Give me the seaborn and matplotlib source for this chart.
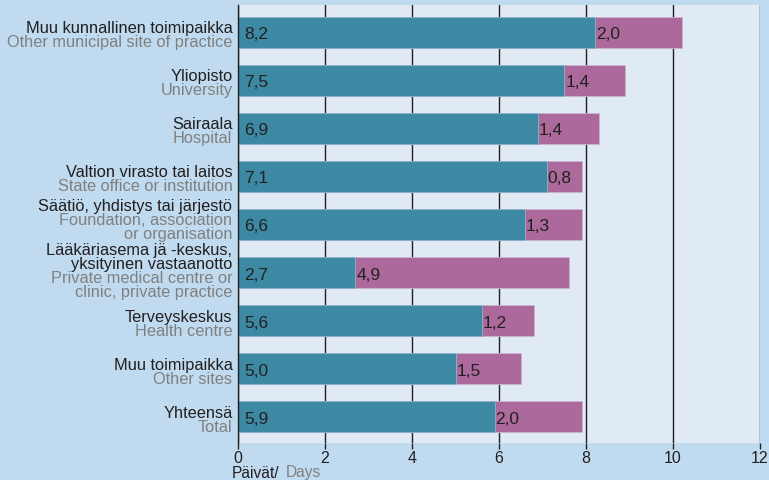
import matplotlib
matplotlib.use("Agg")
import matplotlib.pyplot as plt
import seaborn as sns
import pandas as pd

# ---- data ----
cats_fi = ["Muu kunnallinen toimipaikka", "Yliopisto", "Sairaala",
           "Valtion virasto tai laitos", "Säätiö, yhdistys tai järjestö",
           "Lääkäriasema jä -keskus,\nyksityinen vastaanotto", "Terveyskeskus",
           "Muu toimipaikka", "Yhteensä"]
cats_en = ["Other municipal site of practice", "University", "Hospital",
           "State office or institution", "Foundation, association\nor organisation",
           "Private medical centre or\nclinic, private practice", "Health centre",
           "Other sites", "Total"]
teal_vals = [8.2, 7.5, 6.9, 7.1, 6.6, 2.7, 5.6, 5.0, 5.9]
pink_vals = [2.0, 1.4, 1.4, 0.8, 1.3, 4.9, 1.2, 1.5, 2.0]
xticks = [0, 2, 4, 6, 8, 10, 12]
xlabel_fi = "Päivät/"
xlabel_en = "Days"

TEAL = "#3d89a4"
PINK = "#ab6a9b"
PLOT_BG = "#dfeaf5"
OUT_BG = "#c0dbf0"
DARK = "#231f20"
GRAY = "#808080"

sns.set_theme(style="white")
plt.rcParams["font.family"] = ["Liberation Sans", "DejaVu Sans"]

df = pd.DataFrame({"cat": cats_fi, "teal": teal_vals, "pink": pink_vals})
df["total"] = df["teal"] + df["pink"]

fig = plt.figure(figsize=(7.69, 4.8), dpi=100, facecolor=OUT_BG)
ax = fig.add_axes([238 / 769, 37 / 480, (760 - 238) / 769, (475 - 37) / 480])
ax.set_facecolor(PLOT_BG)

sns.barplot(data=df, x="total", y="cat", order=cats_fi, orient="h", color=PINK,
            saturation=1, width=0.65, ax=ax, edgecolor="#c9b3cf", linewidth=0.6,
            errorbar=None)
sns.barplot(data=df, x="teal", y="cat", order=cats_fi, orient="h", color=TEAL,
            saturation=1, width=0.65, ax=ax, edgecolor="#8fb4cc", linewidth=0.6,
            errorbar=None)

ax.set_xlim(0, 12)
ax.set_ylim(8.55, -0.57)
ax.set_xticks(xticks)
ax.set_xticklabels([str(t) for t in xticks], fontsize=11.5, color=DARK)
ax.set_yticks(range(len(cats_fi)))
ax.set_yticklabels([""] * len(cats_fi))
ax.tick_params(axis="y", length=0)
ax.tick_params(axis="x", length=4, width=1, color=DARK, pad=2, direction="out",
               bottom=True)
ax.set_xlabel("")
ax.set_ylabel("")
ax.set_axisbelow(True)
ax.xaxis.grid(True, color=DARK, linewidth=1)
for s in ["top", "right", "bottom"]:
    ax.spines[s].set_visible(False)
ax.spines["left"].set_color(DARK)
ax.spines["left"].set_linewidth(1)

# category labels (Finnish black, English gray)
PX = 72 / 100
line_pt = 14 * PX
block_shift = {1: 5, 2: 8, 3: 0.5, 4: 3}
trans = ax.get_yaxis_transform()
for i, (fi, en) in enumerate(zip(cats_fi, cats_en)):
    lines = [(l, DARK) for l in fi.split("\n")] + [(l, GRAY) for l in en.split("\n")]
    n = len(lines)
    for k, (txt, col) in enumerate(lines):
        off = (k - (n - 1) / 2) * line_pt + block_shift[n] * PX
        ax.annotate(txt, xy=(0, i), xycoords=trans, xytext=(-4, -off),
                    textcoords="offset points", ha="right", va="baseline",
                    fontsize=11.8, color=col, annotation_clip=False)

# value labels
for i, (t, p) in enumerate(zip(teal_vals, pink_vals)):
    ax.annotate(f"{t:.1f}".replace(".", ","), xy=(0, i), xytext=(4.2, -7 * PX),
                textcoords="offset points", ha="left", va="baseline",
                fontsize=12.5, color=DARK)
    ax.annotate(f"{p:.1f}".replace(".", ","), xy=(t, i), xytext=(0.7, -7 * PX),
                textcoords="offset points", ha="left", va="baseline",
                fontsize=12.5, color=DARK)

# x axis title
fig.text(232 / 769, 1 - 477.5 / 480, xlabel_fi, fontsize=11.2, color=DARK,
         ha="left", va="baseline")
fig.text(286 / 769, 1 - 477.5 / 480, xlabel_en, fontsize=11.2, color=GRAY,
         ha="left", va="baseline")

fig.savefig("out.png", dpi=100, facecolor=OUT_BG)
